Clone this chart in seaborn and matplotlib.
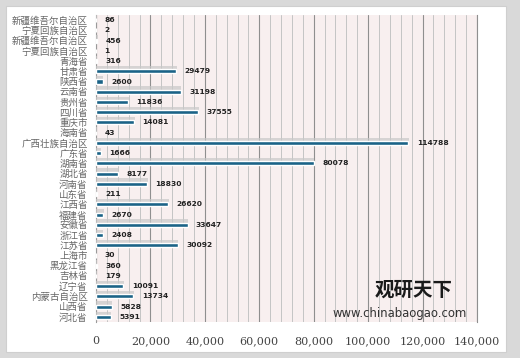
import matplotlib
matplotlib.use("Agg")
import matplotlib.pyplot as plt
import matplotlib.patheffects as pe
from matplotlib.patches import Rectangle
from matplotlib.ticker import MultipleLocator, FixedLocator
import seaborn as sns
import pandas as pd

provinces = ["新疆维吾尔自治区", "宁夏回族自治区", "新疆维吾尔自治区", "宁夏回族自治区", "青海省",
             "甘肃省", "陕西省", "云南省", "贵州省", "四川省", "重庆市", "海南省",
             "广西壮族自治区", "广东省", "湖南省", "湖北省", "河南省", "山东省", "江西省",
             "福建省", "安徽省", "浙江省", "江苏省", "上海市", "黑龙江省", "吉林省",
             "辽宁省", "内蒙古自治区", "山西省", "河北省"]
values = [86, 2, 456, 1, 316, 29479, 2600, 31198, 11836, 37555, 14081, 43,
          114788, 1666, 80078, 8177, 18830, 211, 26620, 2670, 33647, 2408, 30092,
          30, 360, 179, 10091, 13734, 5828, 5391]
x_ticks = [0, 20000, 40000, 60000, 80000, 100000, 120000, 140000]
x_tick_labels = ["0", "20,000", "40,000", "60,000", "80,000", "100,000", "120,000", "140,000"]

df = pd.DataFrame({"row": list(range(len(provinces))), "value": values})

sns.set_theme(style="white")
plt.rcParams["font.family"] = ["Noto Sans CJK SC", "DejaVu Sans"]

fig = plt.figure(figsize=(5.2, 3.58), dpi=100)
fig.patch.set_facecolor("#d9d9d9")
fig.add_artist(Rectangle((6/520, 6/358), 500/520, 346/358, transform=fig.transFigure,
                         facecolor="white", edgecolor="#cfcfcf", lw=0.8, zorder=0))

ax = fig.add_axes([96/520, 1-322/358, 381/520, 307/358])
ax.set_facecolor("#f8efef")

sns.barplot(data=df, y="row", x="value", orient="h", color="#1b6387", width=0.4,
            saturation=1, ax=ax, zorder=3)

for p in ax.patches:
    p.set_path_effects([pe.SimplePatchShadow(offset=(0.3, 2.4), shadow_rgbFace="#c8c8c8", alpha=0.7),
                        pe.Normal()])

ax.bar_label(ax.containers[0], labels=[str(v) for v in values], padding=6,
             fontsize=5.4, fontweight="bold", color="#222222", family="DejaVu Sans")

ax.set_xlim(0, 140000)
ax.set_ylim(len(provinces) - 0.5, -0.5)
ax.xaxis.set_major_locator(FixedLocator(x_ticks))
ax.xaxis.set_minor_locator(MultipleLocator(4000))
ax.grid(True, which="minor", axis="x", color="#c4c4c4", lw=0.7, zorder=1)
ax.grid(True, which="major", axis="x", color="#8f8f8f", lw=0.8, zorder=1)
ax.grid(False, axis="y")
ax.set_axisbelow(True)

ax.set_xticklabels(x_tick_labels, family="DejaVu Serif", fontsize=8, color="#444444")
ax.set_yticks(range(len(provinces)))
ax.set_yticklabels(provinces, fontsize=6.8, color="#666666")
ax.tick_params(axis="x", length=0, pad=10)
ax.tick_params(axis="y", length=0, pad=6)
ax.set_xlabel("")
ax.set_ylabel("")
for s in ["top", "bottom"]:
    ax.spines[s].set_visible(False)
ax.spines["left"].set_color("#9a9a9a")
ax.spines["left"].set_linewidth(0.8)
ax.spines["right"].set_color("#8f8f8f")
ax.spines["right"].set_linewidth(0.8)

# watermark
fig.text(375/520, 1-290/358, "观研天下", fontsize=14, fontweight="bold", color="#1a1a1a",
         ha="left", va="center")
fig.text(333/520, 1-313/358, "www.chinabaogao.com", fontsize=8.4, color="#333333",
         ha="left", va="center", family="DejaVu Sans")

fig.savefig("out.png", dpi=100, facecolor=fig.get_facecolor())
